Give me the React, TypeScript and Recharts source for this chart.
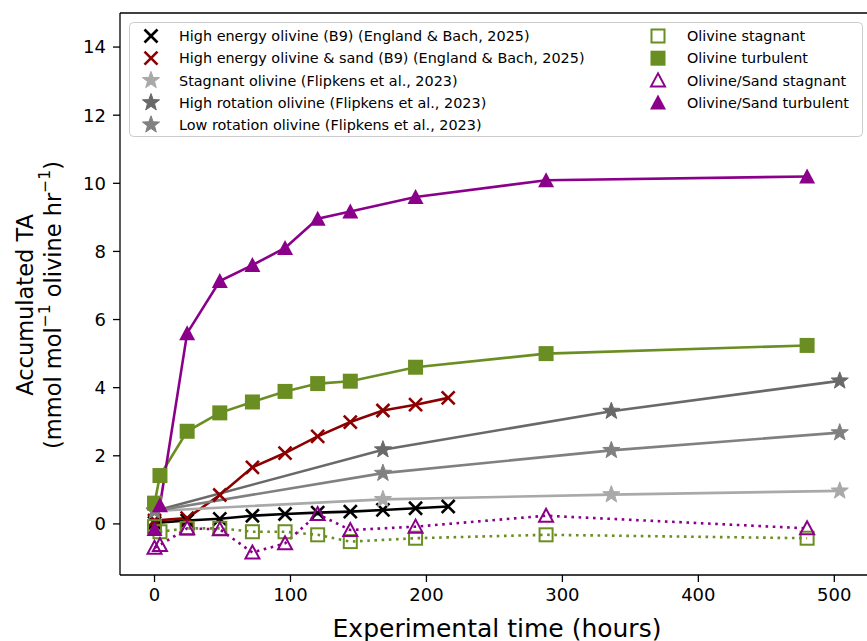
import * as React from 'react'
import { LineChart, Line, XAxis, YAxis, ReferenceLine } from 'recharts'

// sampling times (hours)
const ebTimes = [0, 24, 48, 72, 96, 120, 144, 168, 192, 216]
const flipkensTimes = [0, 168, 336, 504]
const columnTimes = [0, 4, 24, 48, 72, 96, 120, 144, 192, 288, 480]

// accumulated TA (mmol mol-1 olivine hr-1)
const highEnergyOlivine = [0.03, 0.1, 0.15, 0.24, 0.29, 0.33, 0.36, 0.41, 0.46, 0.51]
const highEnergySand = [0.1, 0.17, 0.85, 1.66, 2.08, 2.57, 2.99, 3.33, 3.5, 3.7]
const stagnantOlivine = [0.38, 0.72, 0.86, 0.97]
const highRotation = [0.38, 2.18, 3.31, 4.2]
const lowRotation = [0.38, 1.49, 2.16, 2.68]
const olivineStagnant = [-0.08, -0.23, -0.13, -0.13, -0.23, -0.23, -0.32, -0.52, -0.42, -0.32, -0.42]
const olivineTurbulent = [0.61, 1.42, 2.72, 3.26, 3.58, 3.89, 4.12, 4.19, 4.6, 5.0, 5.24]
const sandStagnant = [-0.7, -0.62, -0.13, -0.16, -0.84, -0.57, 0.29, -0.18, -0.08, 0.24, -0.13]
const sandTurbulent = [-0.15, 0.55, 5.6, 7.13, 7.6, 8.1, 8.96, 9.17, 9.6, 10.09, 10.2]

const xTicks = [0, 100, 200, 300, 400, 500]
const yTicks = [0, 2, 4, 6, 8, 10, 12, 14]

const FONT = '"DejaVu Sans", sans-serif'
const PURPLE = '#8b008b'
const GREEN = '#6b8e23'

type Shape = 'x' | 'star' | 'square' | 'squareOpen' | 'tri' | 'triOpen'

function pts(times: number[], vals: number[]) {
    return times.map((x, i) => ({ x, y: vals[i] }))
}

const series = [
    { name: 'High energy olivine (B9) (England & Bach, 2025)', data: pts(ebTimes, highEnergyOlivine), color: '#000000', shape: 'x' as Shape, dotted: false },
    { name: 'High energy olivine & sand (B9) (England & Bach, 2025)', data: pts(ebTimes, highEnergySand), color: '#8b0000', shape: 'x' as Shape, dotted: false },
    { name: 'Stagnant olivine (Flipkens et al., 2023)', data: pts(flipkensTimes, stagnantOlivine), color: '#a9a9a9', shape: 'star' as Shape, dotted: false },
    { name: 'High rotation olivine (Flipkens et al., 2023)', data: pts(flipkensTimes, highRotation), color: '#696969', shape: 'star' as Shape, dotted: false },
    { name: 'Low rotation olivine (Flipkens et al., 2023)', data: pts(flipkensTimes, lowRotation), color: '#808080', shape: 'star' as Shape, dotted: false },
    { name: 'Olivine stagnant', data: pts(columnTimes, olivineStagnant), color: GREEN, shape: 'squareOpen' as Shape, dotted: true },
    { name: 'Olivine turbulent', data: pts(columnTimes, olivineTurbulent), color: GREEN, shape: 'square' as Shape, dotted: false },
    { name: 'Olivine/Sand stagnant', data: pts(columnTimes, sandStagnant), color: PURPLE, shape: 'triOpen' as Shape, dotted: true },
    { name: 'Olivine/Sand turbulent', data: pts(columnTimes, sandTurbulent), color: PURPLE, shape: 'tri' as Shape, dotted: false },
]

function starPath(cx: number, cy: number, ro: number, ri: number) {
    let d = ''
    for (let i = 0; i < 10; i++) {
        const r = i % 2 === 0 ? ro : ri
        const a = -Math.PI / 2 + (i * Math.PI) / 5
        d += (i === 0 ? 'M' : 'L') + (cx + r * Math.cos(a)).toFixed(2) + ',' + (cy + r * Math.sin(a)).toFixed(2)
    }
    return d + 'Z'
}

function Marker({ cx, cy, shape, color }: { cx: number; cy: number; shape: Shape; color: string }) {
    if (cx == null || cy == null) return null
    switch (shape) {
        case 'x':
            return (
                <g stroke={color} strokeWidth={2.6}>
                    <line x1={cx - 6.5} y1={cy - 6.5} x2={cx + 6.5} y2={cy + 6.5} />
                    <line x1={cx - 6.5} y1={cy + 6.5} x2={cx + 6.5} y2={cy - 6.5} />
                </g>
            )
        case 'star':
            return <path d={starPath(cx, cy, 9, 3.7)} fill={color} stroke={color} strokeWidth={1} />
        case 'square':
            return <rect x={cx - 7.5} y={cy - 7.5} width={15} height={15} fill={color} />
        case 'squareOpen':
            return <rect x={cx - 6.5} y={cy - 6.5} width={13} height={13} fill="none" stroke={color} strokeWidth={2} />
        case 'tri':
            return <path d={`M${cx},${cy - 8}L${cx - 8},${cy + 7}L${cx + 8},${cy + 7}Z`} fill={color} />
        case 'triOpen':
            return <path d={`M${cx},${cy - 7}L${cx - 7},${cy + 6}L${cx + 7},${cy + 6}Z`} fill="none" stroke={color} strokeWidth={2} />
    }
    return null
}

function Legend() {
    const left = series.slice(0, 5)
    const right = series.slice(5)
    const rowY = (i: number) => 36 + i * 22.2
    return (
        <svg width={867} height={641} style={{ position: 'absolute', left: 0, top: 0, pointerEvents: 'none' }}>
            <rect x={129.5} y={22.5} width={733} height={114} rx={4} fill="white" fillOpacity={0.8} stroke="#cccccc" />
            {left.map((s, i) => (
                <g key={s.name}>
                    <Marker cx={151} cy={rowY(i)} shape={s.shape} color={s.color} />
                    <text x={179} y={rowY(i) + 5.2} fontSize={14.4} fontFamily={FONT} fill="#000">{s.name}</text>
                </g>
            ))}
            {right.map((s, i) => (
                <g key={s.name}>
                    <Marker cx={658} cy={rowY(i)} shape={s.shape} color={s.color} />
                    <text x={687} y={rowY(i) + 5.2} fontSize={14.4} fontFamily={FONT} fill="#000">{s.name}</text>
                </g>
            ))}
        </svg>
    )
}

function YLabel() {
    return (
        <g fontFamily={FONT} fontSize={22.5} fill="#000">
            <text x={25} y={305} textAnchor="middle" dominantBaseline="central" transform="rotate(-90, 25, 305)">Accumulated TA</text>
            <text x={53} y={305} textAnchor="middle" dominantBaseline="central" transform="rotate(-90, 53, 305)">
                (mmol mol<tspan fontSize={15.5} dy={-8}>−1</tspan>
                <tspan dy={8}> olivine hr</tspan>
                <tspan fontSize={15.5} dy={-8}>−1</tspan>
                <tspan dy={8}>)</tspan>
            </text>
        </g>
    )
}

function XLabel() {
    return (
        <text x={497} y={637} textAnchor="middle" fontFamily={FONT} fontSize={25} fill="#000">Experimental time (hours)</text>
    )
}

export default function App() {
    const tickStyle = { fontSize: 18, fontFamily: FONT, fill: '#000' }
    return (
        <div style={{ position: 'absolute', left: 0, top: 0, width: 867, height: 641, overflow: 'hidden', background: '#fff' }}>
            <LineChart width={880} height={641} margin={{ top: 13, right: 6, bottom: 6, left: 60 }}>
                <XAxis type="number" dataKey="x" domain={[-25.4, 529.2]} ticks={xTicks} height={60} allowDataOverflow
                    tick={tickStyle} tickSize={7} tickMargin={6}
                    axisLine={{ stroke: '#000', strokeWidth: 1.3 }} tickLine={{ stroke: '#000', strokeWidth: 1.3 }}
                    label={{ content: () => <XLabel /> }} />
                <YAxis type="number" domain={[-1.5, 15]} ticks={yTicks} width={60} allowDataOverflow
                    tick={tickStyle} tickSize={7} tickMargin={7}
                    axisLine={{ stroke: '#000', strokeWidth: 1.3 }} tickLine={{ stroke: '#000', strokeWidth: 1.3 }}
                    label={{ content: () => <YLabel /> }} />
                <ReferenceLine y={15} stroke="#000" strokeWidth={1.3} />
                {series.map((s) => (
                    <Line key={s.name} data={s.data} dataKey="y" name={s.name} stroke={s.color}
                        strokeWidth={2.6} strokeDasharray={s.dotted ? '2.6 4.6' : undefined}
                        isAnimationActive={false} legendType="none"
                        dot={(p: any) => <Marker key={`${s.name}-${p.index}`} cx={p.cx} cy={p.cy} shape={s.shape} color={s.color} />}
                        activeDot={false} />
                ))}
            </LineChart>
            <Legend />
        </div>
    )
}
